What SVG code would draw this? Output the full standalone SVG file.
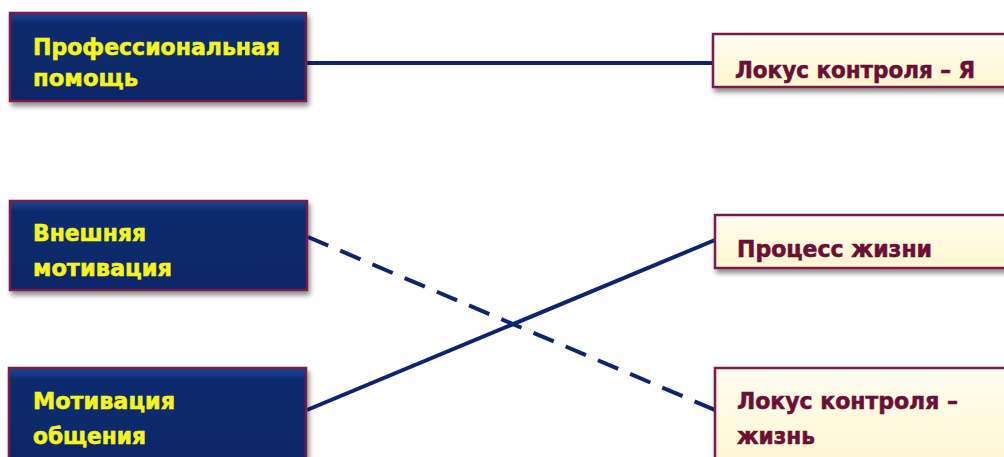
<svg xmlns="http://www.w3.org/2000/svg" width="1004" height="457" viewBox="0 0 1004 457">
<defs>
<filter id="sh" x="-10%" y="-10%" width="130%" height="140%">
<feGaussianBlur in="SourceAlpha" stdDeviation="2.5"/>
<feOffset dx="2" dy="4" result="b"/>
<feComponentTransfer><feFuncA type="linear" slope="0.45"/></feComponentTransfer>
<feMerge><feMergeNode/><feMergeNode in="SourceGraphic"/></feMerge>
</filter>
<linearGradient id="gl" x1="0" y1="0" x2="0" y2="1">
<stop offset="0" stop-color="#1f4490"/>
<stop offset="0.12" stop-color="#0b2b6e"/>
<stop offset="1" stop-color="#092768"/>
</linearGradient>
<linearGradient id="gr" x1="0" y1="0" x2="0" y2="1">
<stop offset="0" stop-color="#fffdf0"/>
<stop offset="1" stop-color="#fff6d0"/>
</linearGradient>
</defs>
<style>
.lb{fill:url(#gl);stroke:#7a1f48;stroke-width:2.5;filter:url(#sh)}
.rb{fill:url(#gr);stroke:#7a1f48;stroke-width:2.5;filter:url(#sh)}
.lt{font-family:"DejaVu Sans","Liberation Sans",sans-serif;font-weight:bold;font-size:23px;fill:#f4f41e;stroke:#f4f41e;stroke-width:0.6}
.rt{font-family:"DejaVu Sans","Liberation Sans",sans-serif;font-weight:bold;font-size:23px;fill:#6b1033;stroke:#6b1033;stroke-width:0.6}
.c{stroke:#0f2470;stroke-width:4;fill:none}
.d{stroke-dasharray:22 13}
</style>
<rect width="1004" height="457" fill="#ffffff"/>
<g id="connectors">
<line class="c" x1="307" y1="63" x2="713" y2="63"/>
<line class="c d" x1="308" y1="237" x2="715" y2="410"/>
<line class="c" x1="307" y1="410" x2="715" y2="240"/>
</g>
<g id="n1">
<rect class="lb" x="10" y="13" width="296" height="88"/>
<text class="lt" x="33" y="55" textLength="247" lengthAdjust="spacingAndGlyphs">Профессиональная</text>
<text class="lt" x="33" y="86" textLength="105" lengthAdjust="spacingAndGlyphs">помощь</text>
</g>
<g id="n2">
<rect class="lb" x="10" y="201" width="297" height="89"/>
<text class="lt" x="33" y="241" textLength="113" lengthAdjust="spacingAndGlyphs">Внешняя</text>
<text class="lt" x="33" y="276" textLength="139" lengthAdjust="spacingAndGlyphs">мотивация</text>
</g>
<g id="n3">
<rect class="lb" x="9" y="368" width="297" height="100"/>
<text class="lt" x="33" y="409" textLength="142" lengthAdjust="spacingAndGlyphs">Мотивация</text>
<text class="lt" x="33" y="444" textLength="113" lengthAdjust="spacingAndGlyphs">общения</text>
</g>
<g id="n4">
<rect class="rb" x="713" y="34" width="300" height="53"/>
<text class="rt" x="735" y="78" textLength="240" lengthAdjust="spacingAndGlyphs">Локус контроля – Я</text>
</g>
<g id="n5">
<rect class="rb" x="715" y="215" width="300" height="53"/>
<text class="rt" x="737" y="257" textLength="195" lengthAdjust="spacingAndGlyphs">Процесс жизни</text>
</g>
<g id="n6">
<rect class="rb" x="715" y="368" width="300" height="100"/>
<text class="rt" x="737" y="409" textLength="221" lengthAdjust="spacingAndGlyphs">Локус контроля –</text>
<text class="rt" x="737" y="444" textLength="78" lengthAdjust="spacingAndGlyphs">жизнь</text>
</g>
</svg>
